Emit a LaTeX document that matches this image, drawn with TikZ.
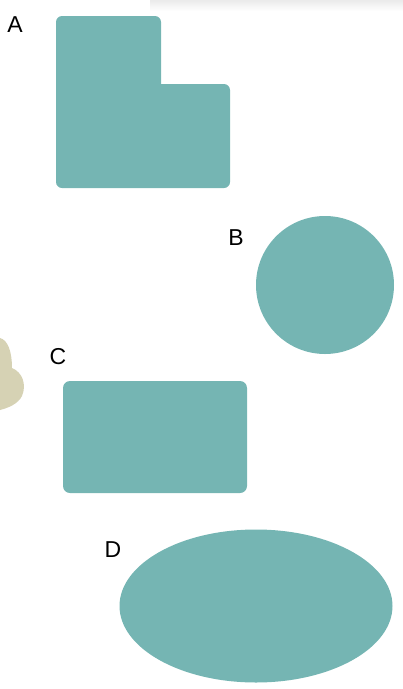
\documentclass[tikz,border=0pt]{standalone}
\usepackage{fontspec}
\setmainfont{Liberation Sans}
\definecolor{shapeteal}{HTML}{75B5B3}
\definecolor{blobbeige}{HTML}{D6D2B4}
\tikzset{
  shapefill/.style={fill=shapeteal,draw=none},
  letter/.style={font=\fontsize{23}{23}\selectfont,inner sep=0pt,anchor=center}
}
\begin{document}
\begin{tikzpicture}[x=1pt,y=-1pt]
  \useasboundingbox (0,0) rectangle (403,689);
  % faint shadow along the top edge
  \shade[top color=black!8,bottom color=white,draw=none] (150,0) rectangle (403,11);
  % beige blob at the left edge
  \fill[blobbeige] (0,338) .. controls (8,340) and (12,352) .. (12,368)
    .. controls (22,372) and (27,384) .. (22,396)
    .. controls (18,404) and (8,408) .. (0,410) -- cycle;
  % A: L-shape
  \fill[shapeteal,rounded corners=6pt] (56,188) -- (56,16) -- (161,16)
    [sharp corners] -- (161,84) [rounded corners=6pt] -- (230,84) -- (230,188) -- cycle;
  \node[letter] (labelA) at (15,25) {A};
  % B: circle
  \fill[shapefill] (325,285) circle[radius=69];
  \node[letter] (labelB) at (236,238) {B};
  % C: rounded rectangle
  \fill[shapefill,rounded corners=7pt] (63,381) rectangle (247,493);
  \node[letter] (labelC) at (58,357) {C};
  % D: ellipse
  \fill[shapefill] (256,606) ellipse[x radius=136.5,y radius=76.5];
  \node[letter] (labelD) at (113,550) {D};
\end{tikzpicture}
\end{document}
